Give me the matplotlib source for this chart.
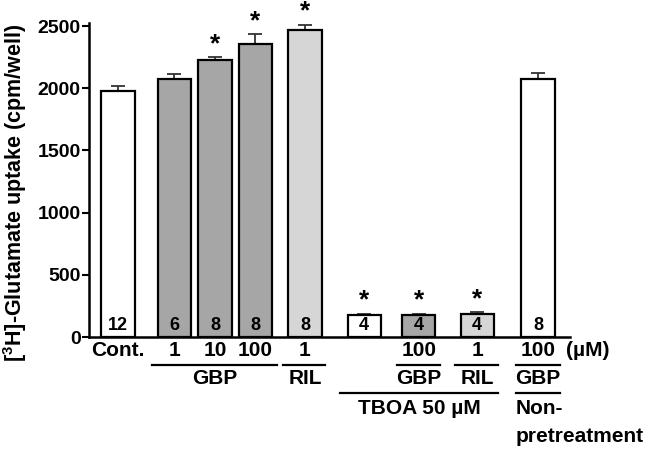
import matplotlib
matplotlib.use("Agg")
import matplotlib.pyplot as plt
import numpy as np

plt.rcParams["font.family"] = ["Liberation Sans", "DejaVu Sans"]
plt.rcParams["font.weight"] = "bold"

# data
values = [1980, 2075, 2225, 2355, 2465, 178, 178, 188, 2075]
errors = [40, 40, 25, 80, 45, 10, 10, 10, 45]
n_labels = ["12", "6", "8", "8", "8", "4", "4", "4", "8"]
dose_labels = ["Cont.", "1", "10", "100", "1", "", "100", "1", "100"]
significant = [False, False, True, True, True, True, True, True, False]
colors = ["white", "#a6a6a6", "#a6a6a6", "#a6a6a6", "#d6d6d6",
          "white", "#a6a6a6", "#d6d6d6", "white"]

# layout
pos = np.array([0, 1.383, 2.395, 3.383, 4.617, 6.074, 7.43, 8.864, 10.37])
width = 0.815
FS = 15

fig = plt.figure(figsize=(6.49, 4.5), dpi=100)
ax = fig.add_axes([89 / 649, 113 / 450, 481 / 649, 314 / 450])

ax.bar(pos, values, width=width, color=colors, edgecolor="black", linewidth=1.6, zorder=2)
ax.errorbar(pos, values, yerr=[np.zeros(len(errors)), errors], fmt="none",
            ecolor="#333333", elinewidth=1.3, capsize=5, capthick=1.3, zorder=1)

for x, v, e, s in zip(pos, values, errors, significant):
    if s:
        ax.text(x, v + e + 10, "*", ha="center", va="bottom", fontsize=19, fontweight="bold")

for x, n in zip(pos, n_labels):
    ax.text(x, 22, n, ha="center", va="bottom", fontsize=13, fontweight="bold")

ax.set_xlim(-0.716, 11.16)
ax.set_ylim(0, 2525)
ax.set_yticks([0, 500, 1000, 1500, 2000, 2500])
ax.tick_params(axis="y", labelsize=14, width=1.5, length=5, direction="out", pad=1)
ax.set_xticks([])
for lab in ax.get_yticklabels():
    lab.set_fontweight("bold")
ax.spines["top"].set_visible(False)
ax.spines["right"].set_visible(False)
ax.spines["left"].set_linewidth(1.8)
ax.spines["bottom"].set_linewidth(1.8)

ax.set_ylabel("[$\\mathregular{^3}$H]-Glutamate uptake (cpm/well)", fontsize=15.5, fontweight="bold")
ax.yaxis.set_label_coords(-0.124, 0.46)

tr = ax.get_xaxis_transform()


def yf(py):
    # convert a pixel row of the figure into axes fraction
    return (337 - py) / 314


def under_line(x0, x1, py):
    ax.plot([x0, x1], [yf(py), yf(py)], color="black", lw=1.6, transform=tr, clip_on=False)


def label(x, py, s, ha="center"):
    ax.text(x, yf(py), s, ha=ha, va="center", fontsize=FS, fontweight="bold", transform=tr)


for x, d in zip(pos, dose_labels):
    if d:
        label(x, 351, d)
label(11.6, 351, "(µM)")

m = 0.55
under_line(pos[1] - m, pos[3] + m, 365)
under_line(pos[4] - m, pos[4] + 0.5, 365)
under_line(pos[6] - m, pos[6] + 0.52, 365)
under_line(pos[7] - m, pos[7] + 0.52, 365)
under_line(pos[8] - m, pos[8] + 0.54, 365)
label((pos[1] + pos[3]) / 2, 379, "GBP")
label(pos[4], 379, "RIL")
label(pos[6], 379, "GBP")
label(pos[7], 379, "RIL")
label(pos[8], 379, "GBP")

under_line(pos[5] - 0.6, pos[7] + 0.52, 393)
under_line(pos[8] - m, pos[8] + 0.54, 393)
label(7.45, 408, "TBOA 50 µM")
label(pos[8] - 0.55, 408, "Non-", ha="left")
label(pos[8] - 0.55, 436, "pretreatment", ha="left")

fig.savefig("out.png", dpi=100)
